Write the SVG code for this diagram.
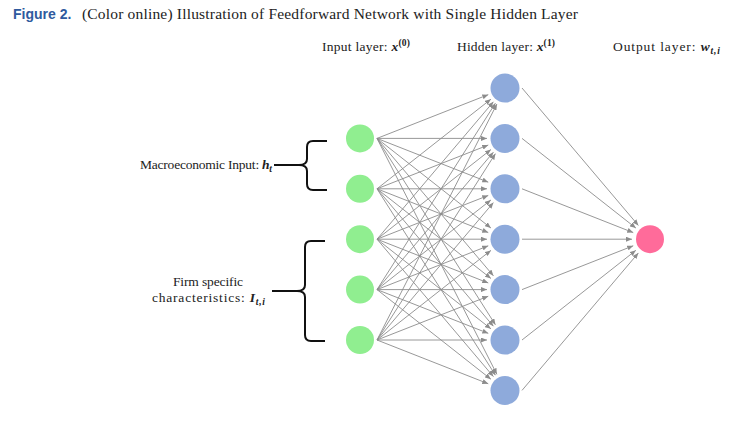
<svg xmlns="http://www.w3.org/2000/svg" width="730" height="422" viewBox="0 0 730 422">
<style>
.serif{font-family:"Liberation Serif","Times New Roman",serif;fill:#222;}
.m{font-weight:bold;font-style:italic;}
.e{stroke:#8c8c8c;stroke-width:0.9;fill:none;marker-end:url(#ah);}
.in{fill:#90ee90;}
.hid{fill:#8eaadb;}
.out{fill:#ff6b9a;}
.brace{stroke:#111;stroke-width:2;fill:none;}
</style>
<defs>
<marker id="ah" viewBox="0 0 6 5" markerWidth="6" markerHeight="5" refX="6" refY="2.5" orient="auto" markerUnits="userSpaceOnUse">
<path d="M0,0 L6,2.5 L0,5 z" fill="#8c8c8c"/>
</marker>
</defs>
<rect width="730" height="422" fill="#fff"/>
<g id="title">
<text x="13" y="19" font-family="Liberation Sans, Arial, sans-serif" font-weight="bold" font-size="14" fill="#2f5a9e">Figure 2.</text>
<text class="serif" x="82" y="19" font-size="15.5" textLength="496" lengthAdjust="spacing">(Color online) Illustration of Feedforward Network with Single Hidden Layer</text>
</g>
<g id="layer-labels">
<text class="serif" x="322" y="51" font-size="13.5" textLength="88" lengthAdjust="spacing">Input layer: <tspan class="m">x</tspan><tspan font-size="9.5" font-weight="bold" dy="-5">(0)</tspan></text>
<text class="serif" x="457" y="51" font-size="13.5" textLength="98" lengthAdjust="spacing">Hidden layer: <tspan class="m">x</tspan><tspan font-size="9.5" font-weight="bold" dy="-5">(1)</tspan></text>
<text class="serif" x="613" y="51" font-size="13.5" textLength="107" lengthAdjust="spacing">Output layer:  <tspan class="m">w</tspan><tspan class="m" font-size="9.5" dy="3">t,i</tspan></text>
</g>
<g id="connectors">
<line class="e" x1="377" y1="138.4" x2="488.27" y2="94.64"/>
<line class="e" x1="377" y1="138.4" x2="487" y2="138.4"/>
<line class="e" x1="377" y1="138.4" x2="488.27" y2="182.16"/>
<line class="e" x1="377" y1="138.4" x2="490.9" y2="228.01"/>
<line class="e" x1="377" y1="138.4" x2="493.42" y2="275.82"/>
<line class="e" x1="377" y1="138.4" x2="495.41" y2="324.77"/>
<line class="e" x1="377" y1="138.4" x2="496.9" y2="374.33"/>
<line class="e" x1="377" y1="188.8" x2="490.9" y2="99.19"/>
<line class="e" x1="377" y1="188.8" x2="488.27" y2="145.04"/>
<line class="e" x1="377" y1="188.8" x2="487" y2="188.8"/>
<line class="e" x1="377" y1="188.8" x2="488.27" y2="232.56"/>
<line class="e" x1="377" y1="188.8" x2="490.9" y2="278.41"/>
<line class="e" x1="377" y1="188.8" x2="493.42" y2="326.22"/>
<line class="e" x1="377" y1="188.8" x2="495.41" y2="375.17"/>
<line class="e" x1="377" y1="239.2" x2="493.42" y2="101.78"/>
<line class="e" x1="377" y1="239.2" x2="490.9" y2="149.59"/>
<line class="e" x1="377" y1="239.2" x2="488.27" y2="195.44"/>
<line class="e" x1="377" y1="239.2" x2="487" y2="239.2"/>
<line class="e" x1="377" y1="239.2" x2="488.27" y2="282.96"/>
<line class="e" x1="377" y1="239.2" x2="490.9" y2="328.81"/>
<line class="e" x1="377" y1="239.2" x2="493.42" y2="376.62"/>
<line class="e" x1="377" y1="289.6" x2="495.41" y2="103.23"/>
<line class="e" x1="377" y1="289.6" x2="493.42" y2="152.18"/>
<line class="e" x1="377" y1="289.6" x2="490.9" y2="199.99"/>
<line class="e" x1="377" y1="289.6" x2="488.27" y2="245.84"/>
<line class="e" x1="377" y1="289.6" x2="487" y2="289.6"/>
<line class="e" x1="377" y1="289.6" x2="488.27" y2="333.36"/>
<line class="e" x1="377" y1="289.6" x2="490.9" y2="379.21"/>
<line class="e" x1="377" y1="340" x2="496.9" y2="104.07"/>
<line class="e" x1="377" y1="340" x2="495.41" y2="153.63"/>
<line class="e" x1="377" y1="340" x2="493.42" y2="202.58"/>
<line class="e" x1="377" y1="340" x2="490.9" y2="250.39"/>
<line class="e" x1="377" y1="340" x2="488.27" y2="296.24"/>
<line class="e" x1="377" y1="340" x2="487" y2="340"/>
<line class="e" x1="377" y1="340" x2="488.27" y2="383.76"/>
<line class="e" x1="522" y1="88" x2="638.37" y2="225.46"/>
<line class="e" x1="522" y1="138.4" x2="635.86" y2="228.06"/>
<line class="e" x1="522" y1="188.8" x2="633.25" y2="232.61"/>
<line class="e" x1="522" y1="239.2" x2="632" y2="239.2"/>
<line class="e" x1="522" y1="289.6" x2="633.25" y2="245.79"/>
<line class="e" x1="522" y1="340" x2="635.86" y2="250.34"/>
<line class="e" x1="522" y1="390.4" x2="638.37" y2="252.94"/>
</g>
<g id="input-nodes">
<g id="in1"><circle class="in" cx="360" cy="138.4" r="14"/></g>
<g id="in2"><circle class="in" cx="360" cy="188.8" r="14"/></g>
<g id="in3"><circle class="in" cx="360" cy="239.2" r="14"/></g>
<g id="in4"><circle class="in" cx="360" cy="289.6" r="14"/></g>
<g id="in5"><circle class="in" cx="360" cy="340" r="14"/></g>
</g>
<g id="hidden-nodes">
<g id="h1"><circle class="hid" cx="505" cy="88" r="14.5"/></g>
<g id="h2"><circle class="hid" cx="505" cy="138.4" r="14.5"/></g>
<g id="h3"><circle class="hid" cx="505" cy="188.8" r="14.5"/></g>
<g id="h4"><circle class="hid" cx="505" cy="239.2" r="14.5"/></g>
<g id="h5"><circle class="hid" cx="505" cy="289.6" r="14.5"/></g>
<g id="h6"><circle class="hid" cx="505" cy="340" r="14.5"/></g>
<g id="h7"><circle class="hid" cx="505" cy="390.4" r="14.5"/></g>
</g>
<g id="output-node">
<g id="o1"><circle class="out" cx="650" cy="239.2" r="14"/></g>
</g>
<g id="macro-label">
<text class="serif" x="140" y="169" font-size="13.5" textLength="132" lengthAdjust="spacing">Macroeconomic Input: <tspan class="m">h</tspan><tspan class="m" font-size="9.5" dy="3">t</tspan></text>
<path class="brace" d="M274,165 L299,165"/>
<path class="brace" d="M327,141 L313,141 Q307,141 307,147 L307,159 Q307,165 299,165 Q307,165 307,171 L307,184 Q307,190 313,190 L327,190"/>
</g>
<g id="firm-label">
<text class="serif" x="173" y="286" font-size="13.5" textLength="70" lengthAdjust="spacing">Firm specific</text>
<text class="serif" x="152" y="302" font-size="13.5" textLength="113" lengthAdjust="spacing">characteristics:  <tspan class="m">I</tspan><tspan class="m" font-size="9.5" dy="3">t,i</tspan></text>
<path class="brace" d="M272,291 L297,291"/>
<path class="brace" d="M325,241 L311,241 Q305,241 305,247 L305,285 Q305,291 297,291 Q305,291 305,297 L305,335 Q305,341 311,341 L325,341"/>
</g>
</svg>
